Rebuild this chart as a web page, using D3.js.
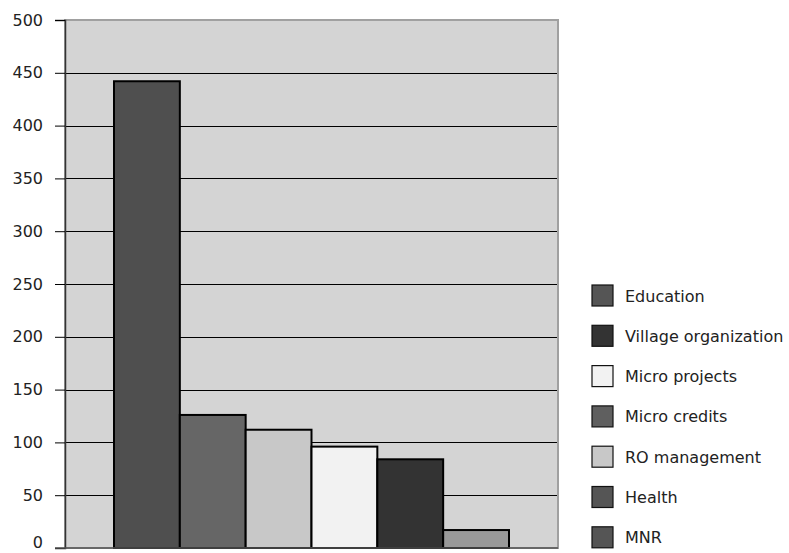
<!DOCTYPE html>
<html>
<head>
<meta charset="utf-8">
<script src="https://cdn.jsdelivr.net/npm/d3@7"></script>
<style>
  body { margin: 0; background: #fff; }
  text { font-family: "DejaVu Sans", sans-serif; fill: #222; }
</style>
</head>
<body>
<div id="chart"></div>
<script>
(function(d3) {
    // bars, in the order they appear left to right
    var barNames = ['Education', 'Micro credits', 'RO management', 'Micro projects', 'Village organization', 'MNR'];
    var barValues = [442, 126, 112, 96, 84, 17];
    var barColors = ['#4f4f4f', '#666666', '#c8c8c8', '#f2f2f2', '#333333', '#999999'];

    // legend, in its own order
    var legendNames = ['Education', 'Village organization', 'Micro projects', 'Micro credits', 'RO management', 'Health', 'MNR'];
    var legendColors = ['#555555', '#333333', '#f2f2f2', '#5f5f5f', '#c8c8c8', '#555555', '#555555'];

    var yTicks = [0, 50, 100, 150, 200, 250, 300, 350, 400, 450, 500];

    var W = 789, H = 553;
    var left = 65, right = 558, top = 20, bottom = 548;

    var svg = d3.select('#chart')
        .append('svg')
        .attr('width', W)
        .attr('height', H);

    var y = d3.scaleLinear().domain([0, 500]).range([bottom, top]);
    var x = d3.scaleBand()
        .domain(barNames)
        .range([left + 49, right - 49])
        .padding(0);

    // plot background
    svg.append('rect')
        .attr('x', left)
        .attr('y', top)
        .attr('width', right - left)
        .attr('height', bottom - top)
        .attr('fill', '#d4d4d4')
        .attr('stroke', '#a0a0a0')
        .attr('stroke-width', 2);

    // gridlines
    svg.selectAll('line.grid')
        .data(yTicks.filter(function(d){ return d > 0 && d < 500; }))
        .enter()
        .append('line')
        .attr('class', 'grid')
        .attr('x1', left)
        .attr('x2', right - 1)
        .attr('y1', function(d){ return Math.round(y(d)) + 0.5; })
        .attr('y2', function(d){ return Math.round(y(d)) + 0.5; })
        .attr('stroke', '#000')
        .attr('stroke-width', 1);

    // bars
    svg.selectAll('rect.bar')
        .data(barValues)
        .enter()
        .append('rect')
        .attr('class', 'bar')
        .attr('x', function(d, i){ return x(barNames[i]); })
        .attr('y', function(d){ return y(d); })
        .attr('width', x.bandwidth())
        .attr('height', function(d){ return bottom - y(d); })
        .attr('fill', function(d, i){ return barColors[i]; })
        .attr('stroke', '#000')
        .attr('stroke-width', 2);

    // y axis
    var yAxis = d3.axisLeft(y)
        .tickValues(yTicks)
        .tickSize(10)
        .tickPadding(12);

    var ax = svg.append('g')
        .attr('transform', 'translate(' + left + ',0)')
        .call(yAxis);
    ax.select('.domain').attr('stroke', '#333').attr('stroke-width', 1.5);
    ax.selectAll('.tick line').attr('stroke', '#000');
    ax.selectAll('.tick text')
        .style('font-size', '16px')
        .style('font-family', '"DejaVu Sans", sans-serif')
        .attr('fill', '#222')
        .attr('y', function(d){ return d === 0 ? -6 : 0; });

    // baseline
    svg.append('line')
        .attr('x1', left - 10)
        .attr('x2', right)
        .attr('y1', bottom)
        .attr('y2', bottom)
        .attr('stroke', '#555')
        .attr('stroke-width', 1.5);

    // legend
    var lg = svg.selectAll('g.legend')
        .data(legendNames)
        .enter()
        .append('g')
        .attr('class', 'legend')
        .attr('transform', function(d, i){ return 'translate(592,' + (285 + i * 40.3) + ')'; });

    lg.append('rect')
        .attr('width', 21)
        .attr('height', 21)
        .attr('fill', function(d, i){ return legendColors[i]; })
        .attr('stroke', '#111')
        .attr('stroke-width', 1.2);

    lg.append('text')
        .attr('x', 33)
        .attr('y', 11)
        .attr('dy', '0.35em')
        .style('font-size', '16px')
        .text(function(d){ return d; });
}(window.d3));
</script>
</body>
</html>
